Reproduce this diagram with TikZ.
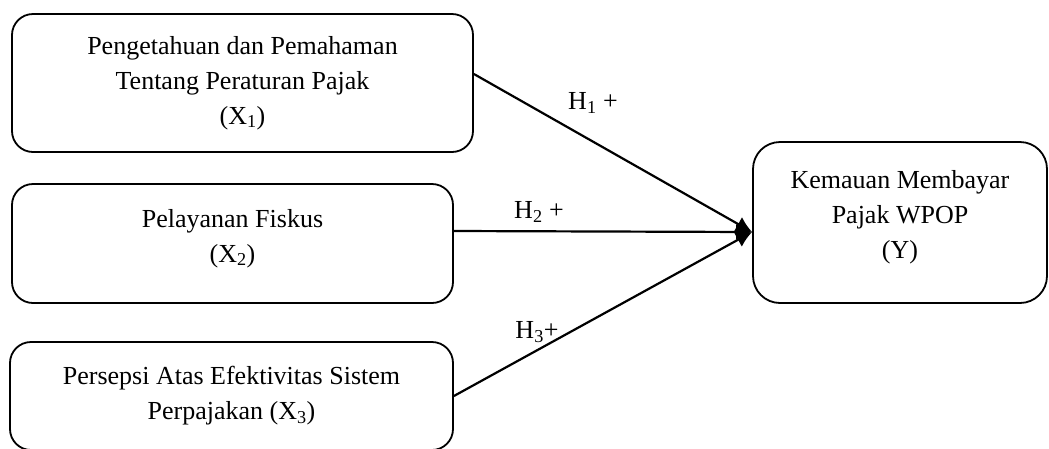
\documentclass[tikz,border=0pt]{standalone}
\usepackage{fontspec}
\setmainfont{Liberation Serif}
\usetikzlibrary{arrows.meta}
\begin{document}
\begin{tikzpicture}[x=1pt,y=-1pt]

    \tikzset{
      varbox/.style={
        draw,
        line width=1.8pt,
        rounded corners=21pt,
        align=center,
        inner sep=0pt,
        font=\fontsize{26}{35}\selectfont,
      },
      vartext/.style={
        align=center,
        inner sep=0pt,
        font=\fontsize{26}{35}\selectfont,
      },
      hyp/.style={
        black,
        line width=2.2pt,
        -{Latex[length=16pt,width=16pt]},
      },
      hyplabel/.style={
        anchor=center,
        inner sep=0pt,
        font=\fontsize{26}{35}\selectfont,
      },
    }
    \useasboundingbox (0,0) rectangle (1049,448);

	\node[varbox, minimum width=461pt, minimum height=138pt] (x1) at (242.5,83) {Pengetahuan dan Pemahaman\\Tentang Peraturan Pajak\\(X\textsubscript{1})};
	\node[varbox, minimum width=441pt, minimum height=119pt] (x2) at (232.5,243.5) {};
	\node[vartext] (x2text) at ([yshift=5pt]x2.center) {Pelayanan Fiskus\\(X\textsubscript{2})};
	\node[varbox, minimum width=443pt, minimum height=108pt] (x3) at (231.5,396) {Persepsi Atas Efektivitas Sistem\\Perpajakan (X\textsubscript{3})};
	\node[varbox, rounded corners=27pt, minimum width=294pt, minimum height=161pt] (y) at (900,222.5) {};
	\node[vartext] (ytext) at ([yshift=5pt]y.center) {Kemauan Membayar\\Pajak WPOP\\(Y)};

	\coordinate (tip) at ([yshift=-9.5pt]y.west);
	\draw[hyp] ([yshift=9pt]x1.east)--(tip);
	\draw[hyp] ([yshift=12.5pt]x2.east)--(tip);
	\draw[hyp] (x3.east)--(tip);

	\node[hyplabel] (h1) at (593,103) {H\textsubscript{1} +};
	\node[hyplabel] (h2) at (539,212) {H\textsubscript{2} +};
	\node[hyplabel] (h3) at (537,332) {H\textsubscript{3}+};

\end{tikzpicture}
\end{document}
